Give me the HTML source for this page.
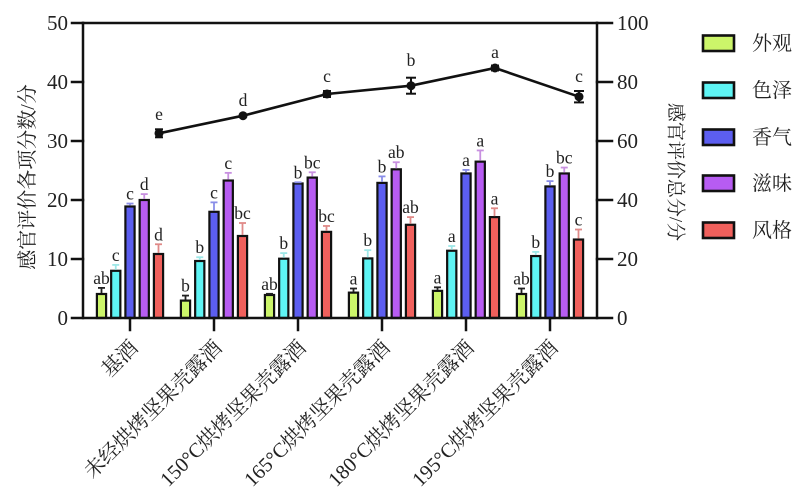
<!DOCTYPE html>
<html><head><meta charset="utf-8"><style>
html,body{margin:0;padding:0;background:#fff;}
svg{display:block;}
text{font-family:"Liberation Serif","Noto Serif CJK SC",serif;fill:#222;}
</style></head><body>
<svg width="800" height="496" viewBox="0 0 800 496" xmlns="http://www.w3.org/2000/svg">
<g id="bars" stroke="#111" stroke-width="2.2"></g>
<g id="errs"></g>
<g id="lbls" font-size="17.5" text-anchor="middle"></g>
<!-- axes -->
<g stroke="#111" stroke-width="2.5" fill="none" stroke-linecap="square">
<line x1="83" y1="23" x2="597" y2="23"/>
<line x1="83" y1="23" x2="83" y2="318"/>
<line x1="597" y1="23" x2="597" y2="318"/>
<line x1="72" y1="318" x2="612" y2="318"/>
<line x1="72" y1="23" x2="83" y2="23"/><line x1="72" y1="82" x2="83" y2="82"/><line x1="72" y1="141" x2="83" y2="141"/><line x1="72" y1="200" x2="83" y2="200"/><line x1="72" y1="259" x2="83" y2="259"/>
<line x1="597" y1="23" x2="612" y2="23"/><line x1="597" y1="82" x2="612" y2="82"/><line x1="597" y1="141" x2="612" y2="141"/><line x1="597" y1="200" x2="612" y2="200"/><line x1="597" y1="259" x2="612" y2="259"/>
<line x1="130" y1="318" x2="130" y2="330"/><line x1="214" y1="318" x2="214" y2="330"/><line x1="298" y1="318" x2="298" y2="330"/><line x1="382" y1="318" x2="382" y2="330"/><line x1="466" y1="318" x2="466" y2="330"/><line x1="550" y1="318" x2="550" y2="330"/>
</g>
<g font-size="21" text-anchor="end">
<text x="68" y="30">50</text><text x="68" y="89">40</text><text x="68" y="148">30</text><text x="68" y="207">20</text><text x="68" y="266">10</text><text x="68" y="325">0</text>
</g>
<g font-size="21" text-anchor="start">
<text x="617" y="30">100</text><text x="617" y="89">80</text><text x="617" y="148">60</text><text x="617" y="207">40</text><text x="617" y="266">20</text><text x="617" y="325">0</text>
</g>
<text font-size="20" text-anchor="middle" transform="translate(28,177) rotate(-90)" dominant-baseline="central">感官评价各项分数/分</text>
<text font-size="19" text-anchor="middle" transform="translate(675,172) rotate(90)" dominant-baseline="central">感官评价总分/分</text>
<!-- line series -->
<g stroke="#111" stroke-width="2.6" fill="none">
<polyline points="159,133.3 243,115.7 327,94 411,85.7 495,68 579,96.7"/>
</g>
<g stroke="#111" stroke-width="2">
<line x1="159" y1="129.3" x2="159" y2="137.3"/><line x1="155" y1="129.3" x2="163" y2="129.3"/><line x1="155" y1="137.3" x2="163" y2="137.3"/>
<line x1="327" y1="91" x2="327" y2="97"/><line x1="323" y1="91" x2="331" y2="91"/><line x1="323" y1="97" x2="331" y2="97"/>
<line x1="411" y1="77.7" x2="411" y2="93.7"/><line x1="406" y1="77.7" x2="416" y2="77.7"/><line x1="406" y1="93.7" x2="416" y2="93.7"/>
<line x1="495" y1="65.5" x2="495" y2="70.5"/><line x1="491" y1="65.5" x2="499" y2="65.5"/><line x1="491" y1="70.5" x2="499" y2="70.5"/>
<line x1="579" y1="91" x2="579" y2="102.4"/><line x1="574" y1="91" x2="584" y2="91"/><line x1="574" y1="102.4" x2="584" y2="102.4"/>
</g>
<g fill="#111">
<circle cx="159" cy="133.3" r="4.5"/><circle cx="243" cy="115.7" r="4.5"/><circle cx="327" cy="94" r="4.5"/><circle cx="411" cy="85.7" r="4.5"/><circle cx="495" cy="68" r="4.5"/><circle cx="579" cy="96.7" r="4.5"/>
</g>
<g font-size="17.5" text-anchor="middle">
<text x="159" y="120">e</text><text x="243" y="106">d</text><text x="327" y="82">c</text><text x="411" y="66">b</text><text x="495" y="58">a</text><text x="579" y="82">c</text>
</g>
<!-- x labels -->
<g font-size="20.5" text-anchor="end">
<text transform="translate(139,349) rotate(-45)">基酒</text>
<text transform="translate(223,349) rotate(-45)">未经烘烤坚果壳露酒</text>
<text transform="translate(307,349) rotate(-45)">150°C烘烤坚果壳露酒</text>
<text transform="translate(391,349) rotate(-45)">165°C烘烤坚果壳露酒</text>
<text transform="translate(475,349) rotate(-45)">180°C烘烤坚果壳露酒</text>
<text transform="translate(559,349) rotate(-45)">195°C烘烤坚果壳露酒</text>
</g>
<!-- legend -->
<g stroke="#111" stroke-width="2.6">
<rect x="703" y="35.5" width="31" height="15.5" fill="#ccf56a"/>
<rect x="703" y="82.5" width="31" height="15.5" fill="#5ef4f4"/>
<rect x="703" y="129.5" width="31" height="15.5" fill="#5c5ef0"/>
<rect x="703" y="175.5" width="31" height="15.5" fill="#b75cf2"/>
<rect x="703" y="222.5" width="31" height="15.5" fill="#f0605c"/>
</g>
<g font-size="20">
<text x="752" y="50">外观</text>
<text x="752" y="97">色泽</text>
<text x="752" y="144">香气</text>
<text x="752" y="190">滋味</text>
<text x="752" y="237">风格</text>
</g>
<script>
(function(){
var NS="http://www.w3.org/2000/svg";
var fills=["#ccf56a","#5ef4f4","#5c5ef0","#b75cf2","#f0605c"];
var ecol=["#222","#9ee8e8","#8a8ee8","#c890e0","#e08a88"];
var data=[
[[4.07,5.1,"ab"],[8.0,9.0,"c"],[18.9,19.4,"c"],[20.0,21.0,"d"],[10.85,12.5,"d"]],
[[2.95,3.8,"b"],[9.66,10.3,"b"],[18.0,19.6,"c"],[23.3,24.6,"c"],[13.9,16.1,"bc"]],
[[3.9,4.1,"ab"],[10.05,11.0,"b"],[22.8,23.0,"b"],[23.8,24.7,"bc"],[14.6,15.6,"bc"]],
[[4.3,5.0,"a"],[10.1,11.5,"b"],[22.9,24.0,"b"],[25.2,26.4,"ab"],[15.8,17.1,"ab"]],
[[4.6,5.2,"a"],[11.4,12.2,"a"],[24.5,25.1,"a"],[26.5,28.4,"a"],[17.1,18.6,"a"]],
[[4.07,5.0,"ab"],[10.5,11.2,"b"],[22.3,23.2,"b"],[24.5,25.5,"bc"],[13.3,15.0,"c"]]];
var off=[-28.5,-14.25,0,14.25,28.5];
var bars=document.getElementById("bars"),errs=document.getElementById("errs"),lb=document.getElementById("lbls");
function Y(v){return 318-v*5.9;}
for(var g=0;g<6;g++){var c=130+84*g;
for(var k=0;k<5;k++){var d=data[g][k];var x=c+off[k];var yt=Y(d[0]);var ye=Y(d[1]);
var r=document.createElementNS(NS,"rect");r.setAttribute("x",x-4.6);r.setAttribute("y",yt);r.setAttribute("width",9.2);r.setAttribute("height",318-yt);r.setAttribute("fill",fills[k]);bars.appendChild(r);
if(yt-ye>0.8){var l=document.createElementNS(NS,"line");l.setAttribute("x1",x);l.setAttribute("x2",x);l.setAttribute("y1",yt-1);l.setAttribute("y2",ye);l.setAttribute("stroke",ecol[k]);l.setAttribute("stroke-width","1.8");errs.appendChild(l);
var l2=document.createElementNS(NS,"line");l2.setAttribute("x1",x-3.5);l2.setAttribute("x2",x+3.5);l2.setAttribute("y1",ye);l2.setAttribute("y2",ye);l2.setAttribute("stroke",ecol[k]);l2.setAttribute("stroke-width","1.8");errs.appendChild(l2);}
var t=document.createElementNS(NS,"text");t.setAttribute("x",x);t.setAttribute("y",Math.min(ye,yt)-4);t.textContent=d[2];lb.appendChild(t);}}
})();
</script>
</svg>
</body></html>
